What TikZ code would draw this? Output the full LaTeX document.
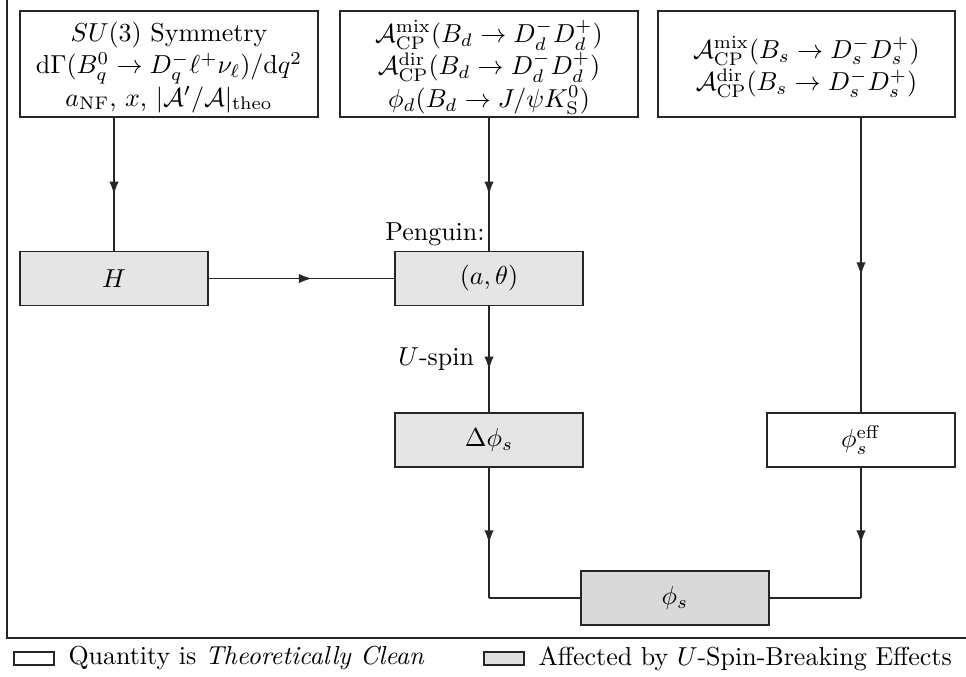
\documentclass[tikz,border=0pt]{standalone}
\usetikzlibrary{arrows.meta,decorations.markings}
\begin{document}
\begin{tikzpicture}[x=0.385pt,y=-0.385pt,
  every node/.style={font=\fontsize{10}{12.5}\selectfont},
  bigbox/.style={draw=black!85, line width=0.75pt, fill=white,
    minimum width=114.7pt, minimum height=40.8pt, inner sep=0pt},
  boxtext/.style={align=center, inner sep=0pt, yshift=-1.2pt},
  smallbox/.style={draw=black!85, line width=0.75pt, align=center,
    minimum width=72.4pt, minimum height=20.8pt, inner sep=2pt},
  clean/.style={smallbox, fill=white},
  affected/.style={smallbox, fill=black!10},
  result/.style={smallbox, fill=black!15},
  legbox/.style={draw=black!85, line width=0.6pt, minimum width=15.4pt, minimum height=4.8pt, inner sep=0pt},
  conn/.style={draw, color=black!85, line width=0.55pt},
  midarrow/.style={postaction={decorate}, decoration={markings,
    mark=at position 0.5 with {\pgftransformxshift{4pt}\arrow{Latex[length=5pt,width=3.6pt]}}}},
]
\useasboundingbox (0,0) rectangle (966,677);

% frame (left and bottom)
\draw[black!85, line width=0.6pt] (7,-5) -- (7,638) -- (975,638);

% top boxes
\node[bigbox] (A) at (169,64) {};
\node[boxtext] (At) at (A.center) {$SU(3)$ Symmetry\\
  $\mathrm{d}\Gamma(B_q^0\to D_q^-\ell^+\nu_\ell)/\mathrm{d}q^2$\\
  $a_{\mathrm{NF}}$, $x$, $|\mathcal{A}'/\mathcal{A}|_{\mathrm{theo}}$};
\node[bigbox] (B) at (489,64) {};
\node[boxtext] (Bt) at (B.center) {$\mathcal{A}_{\mathrm{CP}}^{\mathrm{mix}}(B_d\to D_d^-D_d^+)$\\
  $\mathcal{A}_{\mathrm{CP}}^{\mathrm{dir}}(B_d\to D_d^-D_d^+)$\\
  $\phi_d(B_d\to J/\psi K_{\mathrm{S}}^0)$};
\node[bigbox, minimum width=114.3pt] (C) at (806.5,64) {};
\node[boxtext] (Ct) at (C.center) {$\mathcal{A}_{\mathrm{CP}}^{\mathrm{mix}}(B_s\to D_s^-D_s^+)$\\
  $\mathcal{A}_{\mathrm{CP}}^{\mathrm{dir}}(B_s\to D_s^-D_s^+)$};

% middle boxes
\node[affected] (H) at (114,278.5) {$H$};
\node[affected] (P) at (489,278.5) {$(a,\theta)$};
\node[affected] (D) at (489,440) {$\Delta\phi_s$};
\node[clean] (E) at (861,440) {$\phi_s^{\mathrm{eff}}$};
\node[result] (F) at (675,598) {$\phi_s$};

% labels
\node[anchor=south east, inner sep=1.5pt] (peng) at (P.north) {Penguin:};

% connectors
\coordinate (ah) at (H.north |- A.south);
\draw[conn,midarrow] (ah) -- (H.north);
\draw[conn,midarrow] (B.south) -- (P.north);
\coordinate (ce) at (E.north |- C.south);
\draw[conn,midarrow] (ce) -- (E.north);
\draw[conn,midarrow] (H.east) -- (P.west);
\draw[conn,midarrow] (P.south) -- node[left=5.5pt, inner sep=0pt, text=black] (ulabel) {$U$-spin} (D.north);
\coordinate (dc) at (D.south |- F.west);
\draw[conn,midarrow] (D.south) -- (dc);
\draw[conn] (dc) -- (F.west);
\coordinate (ec) at (E.south |- F.east);
\draw[conn,midarrow] (E.south) -- (ec);
\draw[conn] (ec) -- (F.east);

% legend
\node[legbox, fill=white] (l1) at (34,658.5) {};
\node[anchor=west, inner sep=0pt] (t1) at (68,658.5) {Quantity is \textit{Theoretically Clean}};
\node[legbox, fill=black!12] (l2) at (504,658.5) {};
\node[anchor=west, inner sep=0pt] (t2) at (538,658.5) {Affected by $U$-Spin-Breaking Effects};
\end{tikzpicture}
\end{document}
